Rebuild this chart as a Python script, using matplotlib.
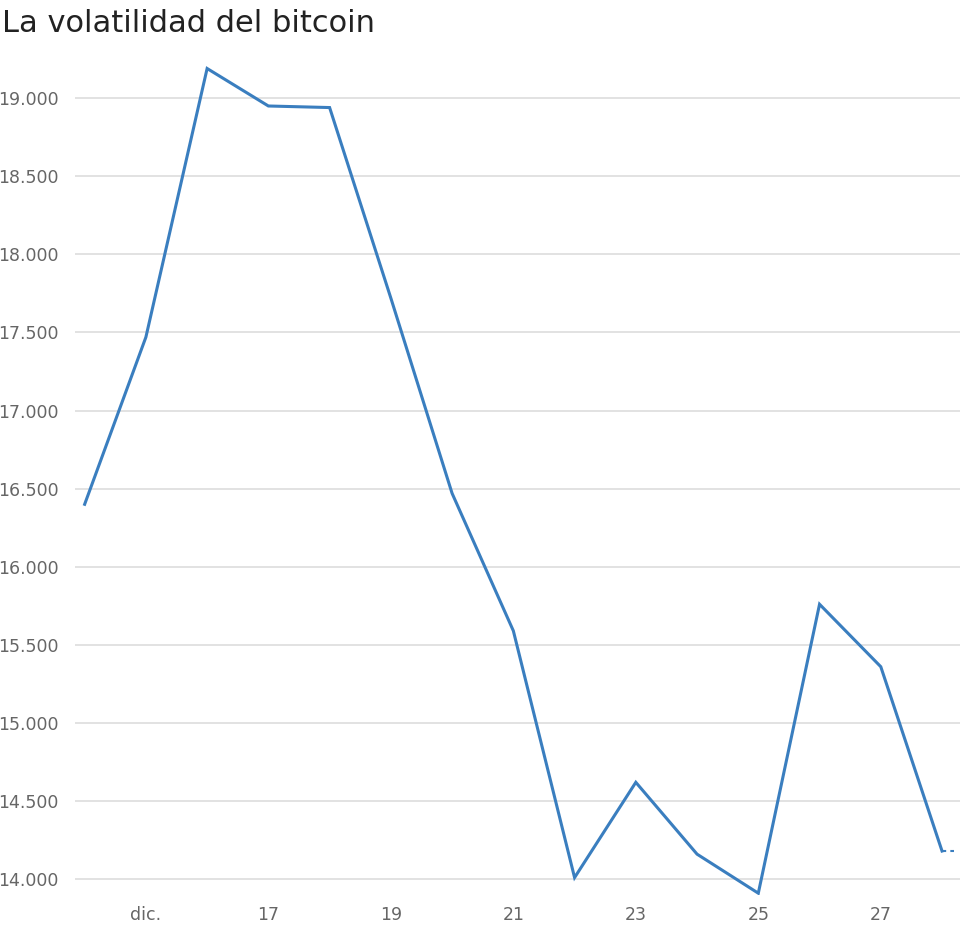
import matplotlib.pyplot as plt
from matplotlib.ticker import FuncFormatter

dias = [14, 15, 16, 17, 18, 19, 20, 21, 22, 23, 24, 25, 26, 27, 28]
precio = [16400, 17470, 19190, 18950, 18940, 17720, 16470, 15590,
          14010, 14620, 14160, 13910, 15760, 15360, 14180]
ticks_x = [15, 17, 19, 21, 23, 25, 27]
etiquetas_x = ['dic.', '17', '19', '21', '23', '25', '27']
ticks_y = list(range(14000, 19001, 500))

fig = plt.figure(figsize=(9.8, 9.34), dpi=100)
ax = fig.add_axes([0.077, 0.042, 0.903, 0.888])

ax.plot(dias, precio, color='#3a7ebf', lw=2.2, solid_joinstyle='miter')
ax.plot([28, 28.2], [14180, 14180], color='#3a7ebf', lw=1.5, ls=(0, (2, 2)))

ax.set_xlim(13.85, 28.3)
ax.set_ylim(13900, 19210)
ax.set_yticks(ticks_y)
ax.yaxis.set_major_formatter(FuncFormatter(lambda v, p: f'{int(v):,}'.replace(',', '.')))
ax.set_xticks(ticks_x)
ax.set_xticklabels(etiquetas_x)
ax.grid(axis='y', color='#dddddd', lw=1.2)
ax.set_axisbelow(True)
for s in ax.spines.values():
    s.set_visible(False)
ax.tick_params(length=0, labelsize=12.5, colors='#666666')
ax.tick_params(axis='y', pad=12)
ax.tick_params(axis='x', pad=8)

fig.text(0.002, 0.975, 'La volatilidad del bitcoin', fontsize=22, va='center', color='#222222')

fig.savefig('out.png', dpi=100)
